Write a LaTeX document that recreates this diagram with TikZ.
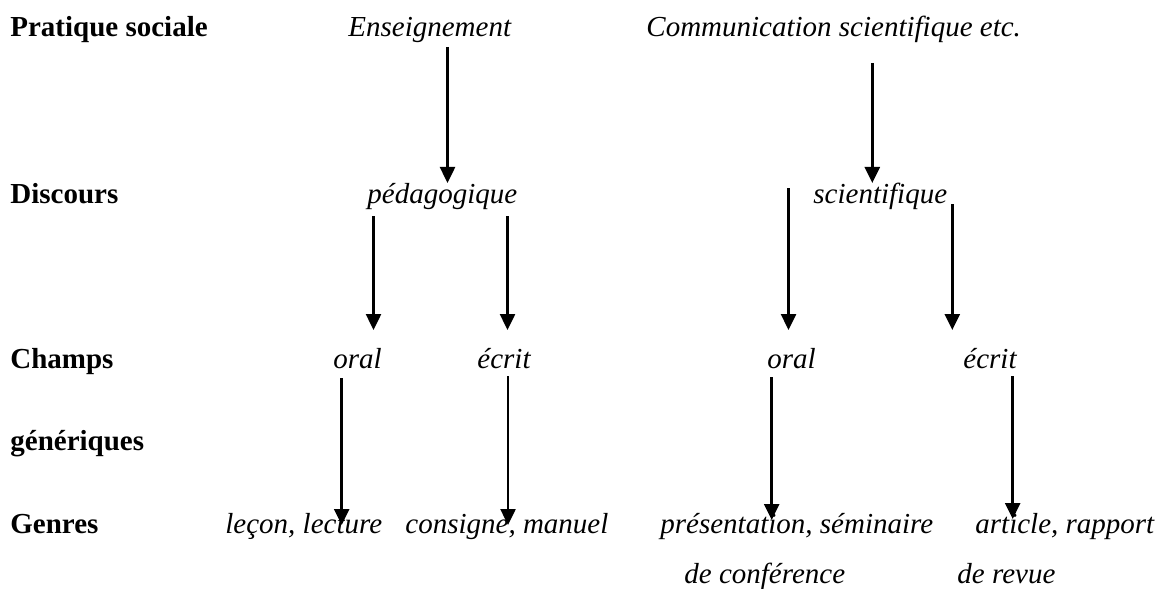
\documentclass[tikz,border=0pt]{standalone}
\usepackage{fontspec}
\setmainfont{Liberation Serif}
\usetikzlibrary{arrows.meta}
\begin{document}
\begin{tikzpicture}[x=0.5pt,y=-0.5pt,
  lbl/.style={anchor=base west, inner sep=0pt, font=\fontsize{14.5pt}{17pt}\selectfont\bfseries},
  itm/.style={anchor=base west, inner sep=0pt, font=\fontsize{14.5pt}{17pt}\selectfont\itshape},
  arr/.style={line width=1.25pt, -{Triangle[width=7.5pt,length=8pt]}}]
\useasboundingbox (0,0) rectangle (1159,588);
% row labels
\node[lbl] (ps) at (10,37) {Pratique sociale};
\node[lbl] (disc) at (10,203) {Discours};
\node[lbl] (champs) at (10,368) {Champs};
\node[lbl] (gener) at (10,450) {génériques};
\node[lbl] (genres) at (10,533) {Genres};
% items
\node[itm] (ens) at (348,37) {Enseignement};
\node[itm] (comm) at (646,37) {Communication scientifique etc.};
\node[itm] (ped) at (367,203) {pédagogique};
\node[itm] (sci) at (813,203) {scientifique};
\node[itm] (oralA) at (333,368) {oral};
\node[itm] (ecritA) at (477,368) {écrit};
\node[itm] (oralB) at (767,368) {oral};
\node[itm] (ecritB) at (963,368) {écrit};
\node[itm] (lecon) at (225,533) {leçon, lecture};
\node[itm] (consigne) at (405,533) {consigne, manuel};
\node[itm] (pres) at (660,533) {présentation, séminaire};
\node[itm] (art) at (975,533) {article, rapport};
\node[itm] (conf) at (684,583) {de conférence};
\node[itm] (revue) at (957,583) {de revue};
% arrow end points
\coordinate (ensS) at (447.5,47);   \coordinate (pedN) at (447.5,183);
\coordinate (commS) at (872.3,63);  \coordinate (sciN) at (872.3,183);
\coordinate (pedSL) at (373.5,216); \coordinate (oralAN) at (373.5,330);
\coordinate (pedSR) at (507.5,216); \coordinate (ecritAN) at (507.5,330);
\coordinate (sciSL) at (788.5,188); \coordinate (oralBN) at (788.5,330);
\coordinate (sciSR) at (952.3,204); \coordinate (ecritBN) at (952.3,330);
\coordinate (oralAS) at (341.7,378); \coordinate (leconN) at (341.7,525);
\coordinate (ecritAS) at (508,376); \coordinate (consigneN) at (508,525);
\coordinate (oralBS) at (771.7,377); \coordinate (presN) at (771.7,520);
\coordinate (ecritBS) at (1012.7,376); \coordinate (artN) at (1012.7,519);
% arrows
\draw[arr] (ensS) -- (pedN);
\draw[arr] (commS) -- (sciN);
\draw[arr] (pedSL) -- (oralAN);
\draw[arr] (pedSR) -- (ecritAN);
\draw[arr] (sciSL) -- (oralBN);
\draw[arr] (sciSR) -- (ecritBN);
\draw[arr] (oralAS) -- (leconN);
\draw[arr] (ecritAS) -- (consigneN);
\draw[arr] (oralBS) -- (presN);
\draw[arr] (ecritBS) -- (artN);
\end{tikzpicture}
\end{document}
